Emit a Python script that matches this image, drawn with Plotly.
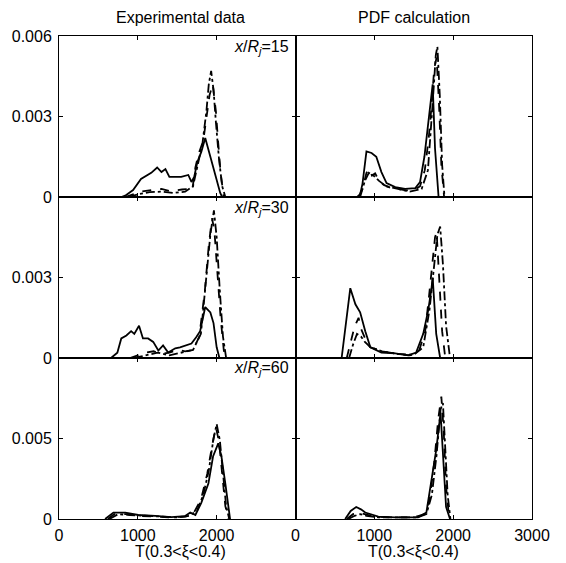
import plotly.graph_objects as go
from plotly.subplots import make_subplots

# ---------------- data ----------------
# Row 1: x/Rj = 15
exp15_solid_T = [790, 840, 940, 1040, 1170, 1245, 1300, 1350, 1400, 1475, 1550, 1640, 1680, 1715, 1755, 1805, 1855, 1920, 1985, 2045, 2070]
exp15_solid_P = [0, 0.00005, 0.00026, 0.00067, 0.0009, 0.0011, 0.00093, 0.00104, 0.00075, 0.00075, 0.00075, 0.00082, 0.00056, 0.00075, 0.0013, 0.00168, 0.0022, 0.0015, 0.00075, 0.00015, 0]
exp15_dash_T = [840, 950, 1040, 1170, 1300, 1400, 1475, 1560, 1640, 1690, 1730, 1770, 1830, 1870, 1910, 1950, 1990, 2020, 2050, 2090]
exp15_dash_P = [0, 0.00012, 0.0002, 0.00026, 0.0003, 0.00022, 0.00026, 0.00028, 0.0003, 0.00024, 0.0011, 0.0016, 0.0021, 0.003, 0.0038, 0.0042, 0.0032, 0.002, 0.0009, 0]
exp15_dd_T = [880, 1000, 1150, 1300, 1450, 1600, 1700, 1760, 1820, 1870, 1900, 1930, 1960, 1990, 2030, 2070, 2110]
exp15_dd_P = [0, 0.0001, 0.00018, 0.0002, 0.00015, 0.0002, 0.0004, 0.0012, 0.002, 0.0032, 0.0042, 0.0047, 0.004, 0.0028, 0.0014, 0.0004, 0]

pdf15_solid_T = [780, 820, 850, 880, 900, 965, 1025, 1090, 1155, 1265, 1390, 1520, 1580, 1635, 1685, 1740, 1770, 1800, 1815]
pdf15_solid_P = [0, 0.0001, 0.0005, 0.0012, 0.0017, 0.00164, 0.0015, 0.00093, 0.00052, 0.00037, 0.0003, 0.00033, 0.00056, 0.0015, 0.0028, 0.0042, 0.0018, 0.0003, 0]
pdf15_dash_T = [800, 850, 900, 935, 970, 1010, 1060, 1120, 1200, 1300, 1400, 1500, 1580, 1640, 1690, 1720, 1760, 1790, 1820, 1850, 1885]
pdf15_dash_P = [0, 0.0003, 0.0009, 0.00105, 0.0008, 0.00088, 0.0006, 0.00045, 0.00035, 0.0003, 0.00025, 0.00025, 0.0004, 0.001, 0.0022, 0.0032, 0.0048, 0.0052, 0.0035, 0.0012, 0]
pdf15_dd_T = [820, 880, 930, 990, 1060, 1150, 1300, 1450, 1600, 1680, 1740, 1780, 1800, 1830, 1860, 1890]
pdf15_dd_P = [0, 0.0006, 0.0009, 0.0008, 0.0006, 0.0004, 0.0003, 0.0002, 0.0003, 0.001, 0.0035, 0.0053, 0.0056, 0.0038, 0.0012, 0]

# Row 2: x/Rj = 30
exp30_solid_T = [660, 740, 790, 855, 915, 955, 1015, 1065, 1130, 1195, 1260, 1320, 1385, 1475, 1535, 1615, 1680, 1740, 1790, 1855, 1920, 1960, 2000, 2035]
exp30_solid_P = [0, 0.0002, 0.00073, 0.00084, 0.001, 0.0009, 0.0012, 0.00073, 0.00073, 0.0006, 0.00028, 0.00047, 0.0002, 0.00036, 0.0004, 0.00047, 0.00054, 0.00077, 0.001, 0.0019, 0.0017, 0.0013, 0.0004, 0]
exp30_dash_T = [900, 1000, 1100, 1200, 1300, 1400, 1500, 1600, 1700, 1780, 1850, 1900, 1940, 1970, 2010, 2050, 2090, 2110]
exp30_dash_P = [0, 0.0001, 0.0002, 0.00025, 0.00015, 0.0002, 0.0003, 0.00025, 0.0003, 0.0008, 0.0025, 0.0042, 0.0052, 0.0048, 0.0032, 0.0015, 0.0003, 0]
exp30_dd_T = [950, 1100, 1250, 1400, 1550, 1700, 1800, 1870, 1920, 1965, 2000, 2040, 2080, 2120]
exp30_dd_P = [0, 0.0001, 0.0002, 0.0001, 0.0002, 0.0003, 0.0009, 0.003, 0.0046, 0.0055, 0.0045, 0.0025, 0.0008, 0]

pdf30_solid_T = [585, 640, 695, 760, 820, 885, 950, 1090, 1265, 1430, 1530, 1620, 1685, 1725, 1740, 1785, 1835]
pdf30_solid_P = [0, 0.0013, 0.0026, 0.002, 0.0017, 0.001, 0.0004, 0.0002, 0.00017, 0.0001, 0.0002, 0.0009, 0.0018, 0.0026, 0.003, 0.0009, 0]
pdf30_dash_T = [650, 700, 735, 770, 800, 830, 860, 900, 950, 1100, 1300, 1450, 1560, 1645, 1690, 1725, 1770, 1790, 1820, 1860, 1900]
pdf30_dash_P = [0, 0.0006, 0.001, 0.0013, 0.0015, 0.0011, 0.0009, 0.0006, 0.0004, 0.00025, 0.00015, 0.0001, 0.0002, 0.001, 0.0022, 0.0033, 0.0045, 0.0047, 0.0032, 0.001, 0]
pdf30_dd_T = [680, 730, 780, 830, 880, 950, 1100, 1300, 1500, 1620, 1700, 1760, 1800, 1835, 1870, 1910, 1960]
pdf30_dd_P = [0, 0.0005, 0.0009, 0.0008, 0.0006, 0.0004, 0.00025, 0.00015, 0.00012, 0.0004, 0.0018, 0.0035, 0.0046, 0.0049, 0.0035, 0.0012, 0]

# Row 3: x/Rj = 60
exp60_solid_T = [585, 640, 690, 840, 1005, 1220, 1425, 1600, 1665, 1730, 1805, 1895, 1955, 2020, 2060, 2110, 2150, 2170]
exp60_solid_P = [0, 0.0002, 0.0004, 0.0004, 0.00025, 0.0002, 0.00012, 0.00018, 0.0004, 0.00025, 0.001, 0.0022, 0.0039, 0.0047, 0.0039, 0.0022, 0.00075, 0]
exp60_dash_T = [620, 700, 850, 1000, 1200, 1400, 1600, 1700, 1800, 1880, 1940, 1990, 2030, 2070, 2110, 2150]
exp60_dash_P = [0, 0.0003, 0.0003, 0.0002, 0.00015, 0.0001, 0.00015, 0.0003, 0.0012, 0.0028, 0.0045, 0.0057, 0.0048, 0.0028, 0.0008, 0]
exp60_dd_T = [640, 750, 900, 1100, 1300, 1500, 1650, 1750, 1830, 1900, 1960, 2000, 2040, 2080, 2120, 2160]
exp60_dd_P = [0, 0.0003, 0.00025, 0.0002, 0.00015, 0.0001, 0.0002, 0.0005, 0.0015, 0.003, 0.005, 0.0059, 0.0049, 0.0028, 0.0008, 0]

pdf60_solid_T = [630, 700, 770, 830, 885, 1050, 1265, 1555, 1660, 1720, 1785, 1840, 1875, 1910, 1960]
pdf60_solid_P = [0, 0.0005, 0.00075, 0.0006, 0.0004, 0.00015, 0.0001, 0.0001, 0.0004, 0.0022, 0.0043, 0.0066, 0.0033, 0.00075, 0]
pdf60_dash_T = [650, 730, 800, 880, 1000, 1200, 1500, 1640, 1700, 1760, 1810, 1850, 1880, 1910, 1950]
pdf60_dash_P = [0, 0.0003, 0.0004, 0.0003, 0.00015, 0.0001, 0.0001, 0.0003, 0.0012, 0.0035, 0.0062, 0.0076, 0.0055, 0.002, 0]
pdf60_dd_T = [670, 750, 820, 900, 1050, 1300, 1550, 1660, 1730, 1790, 1840, 1870, 1900, 1930, 1965]
pdf60_dd_P = [0, 0.0002, 0.0003, 0.0002, 0.0001, 0.0001, 0.0001, 0.0003, 0.0015, 0.004, 0.0068, 0.0072, 0.0045, 0.0015, 0]

column_titles = ["Experimental data", "PDF calculation"]
station_labels = ["15", "30", "60"]
x_title = "T(0.3&lt;ξ&lt;0.4)"
y_ranges = [[0, 0.006], [0, 0.006], [0, 0.01]]
y_tickvals = [[0, 0.003, 0.006], [0, 0.003], [0, 0.005]]
y_ticktext = [["0", "0.003", "0.006"], ["0", "0.003"], ["0", "0.005"]]

panels = [
    [(exp15_solid_T, exp15_solid_P, exp15_dash_T, exp15_dash_P, exp15_dd_T, exp15_dd_P),
     (pdf15_solid_T, pdf15_solid_P, pdf15_dash_T, pdf15_dash_P, pdf15_dd_T, pdf15_dd_P)],
    [(exp30_solid_T, exp30_solid_P, exp30_dash_T, exp30_dash_P, exp30_dd_T, exp30_dd_P),
     (pdf30_solid_T, pdf30_solid_P, pdf30_dash_T, pdf30_dash_P, pdf30_dd_T, pdf30_dd_P)],
    [(exp60_solid_T, exp60_solid_P, exp60_dash_T, exp60_dash_P, exp60_dd_T, exp60_dd_P),
     (pdf60_solid_T, pdf60_solid_P, pdf60_dash_T, pdf60_dash_P, pdf60_dd_T, pdf60_dd_P)],
]

# ---------------- figure ----------------
# the page places the figure with an offset; compensate so the frame lands where the reference has it
OFFX, OFFY = 10, 8
W, H = 566 - OFFX, 563 - OFFY
ML, MR, MT, MB = 61 - OFFX, 32, 36 - OFFY, 44
PW, PH = W - ML - MR, H - MT - MB

fig = make_subplots(rows=3, cols=2, horizontal_spacing=0, vertical_spacing=0)

FONT = "Liberation Sans, Arial, Helvetica, sans-serif"
LW = 1.8
for r in range(3):
    for c in range(2):
        sT, sP, dT, dP, ddT, ddP = panels[r][c]
        fig.add_trace(go.Scatter(x=sT, y=sP, mode="lines", line=dict(color="black", width=LW)), row=r + 1, col=c + 1)
        fig.add_trace(go.Scatter(x=dT, y=dP, mode="lines", line=dict(color="black", width=LW, dash="dash")), row=r + 1, col=c + 1)
        fig.add_trace(go.Scatter(x=ddT, y=ddP, mode="lines", line=dict(color="black", width=LW, dash="dashdot")), row=r + 1, col=c + 1)

        bottom = (r == 2)
        if bottom:
            xt = [0, 1000, 2000] if c == 0 else [0, 1000, 2000, 3000]
        else:
            xt = [1000, 2000]
        fig.update_xaxes(range=[0, 3000], tickvals=xt, ticktext=[str(v) for v in xt],
                         showticklabels=bottom, ticks="inside", ticklen=4, tickcolor="black",
                         showline=True, linecolor="black", linewidth=1, mirror="ticks",
                         showgrid=False, zeroline=False, ticklabelstandoff=2, automargin=False,
                         tickfont=dict(family=FONT, size=16, color="black"),
                         row=r + 1, col=c + 1)
        fig.update_yaxes(range=y_ranges[r], tickvals=y_tickvals[r], ticktext=y_ticktext[r],
                         showticklabels=(c == 0), ticks="inside", ticklen=4, tickcolor="black",
                         showline=True, linecolor="black", linewidth=1, mirror="ticks",
                         showgrid=False, zeroline=False, ticklabelstandoff=3, automargin=False,
                         tickfont=dict(family=FONT, size=16, color="black"),
                         row=r + 1, col=c + 1)

def px2paper(px, py):
    # px, py in page pixels
    return (px - OFFX - ML) / PW, (H - MB - (py - OFFY)) / PH

ann = []
for c, t in enumerate(column_titles):
    cx = [182, 416][c]
    x, y = px2paper(cx, 18)
    ann.append(dict(text=t, x=x, y=y, xref="paper", yref="paper", showarrow=False,
                    xanchor="center", yanchor="middle", font=dict(family=FONT, size=16, color="black")))
    x, y = px2paper([182, 415][c], 552)
    ann.append(dict(text=x_title, x=x, y=y, xref="paper", yref="paper", showarrow=False,
                    xanchor="center", yanchor="middle", font=dict(family=FONT, size=16, color="black")))
for r, lab in enumerate(station_labels):
    x, y = px2paper(293, [47, 208, 368][r])
    ann.append(dict(text="<i>x</i>/<i>R</i><sub><i>j</i></sub>=" + lab, x=x, y=y, xref="paper", yref="paper",
                    showarrow=False, xanchor="right", yanchor="middle",
                    font=dict(family=FONT, size=16, color="black")))

fig.update_layout(width=W, height=H, margin=dict(l=ML, r=MR, t=MT, b=MB),
                  paper_bgcolor="white", plot_bgcolor="white", showlegend=False,
                  annotations=ann, font=dict(family=FONT, color="black"))

fig.write_html("out.html")
